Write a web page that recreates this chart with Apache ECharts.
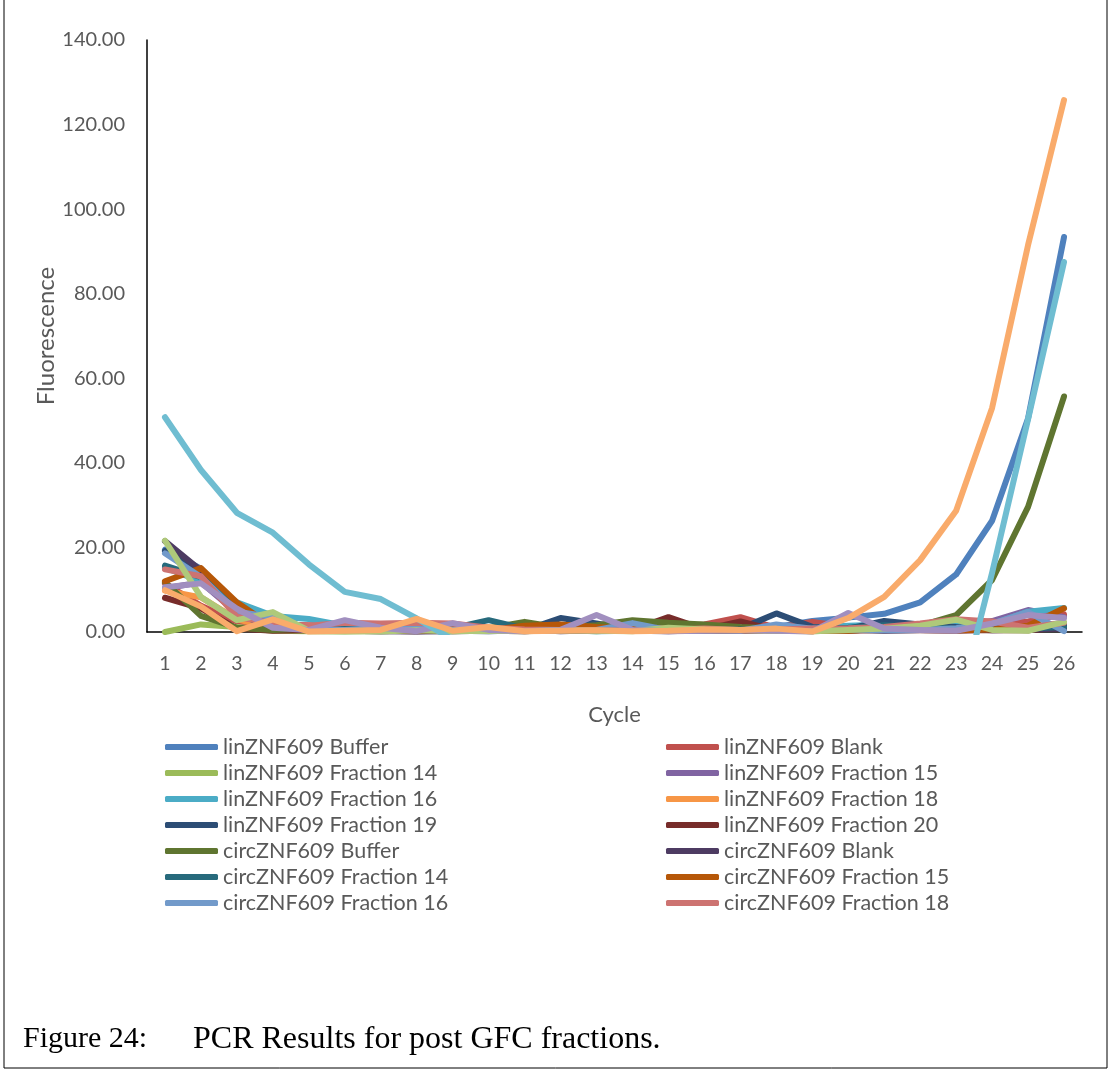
<!DOCTYPE html>
<html>
<head>
<meta charset="utf-8">
<script src="https://cdn.jsdelivr.net/npm/echarts@6/dist/echarts.min.js"></script>
<style>
  html, body { margin: 0; padding: 0; background: #fff; }
  #chart { width: 1110px; height: 1071px; }
</style>
</head>
<body>
<div id="chart"></div>
<script>
// cycles on the x axis
const cycles = ['1','2','3','4','5','6','7','8','9','10','11','12','13','14','15','16','17','18','19','20','21','22','23','24','25','26']

// series names (first 14 are shown in the legend)
const seriesNames = [
  'linZNF609 Buffer', 'linZNF609 Blank',
  'linZNF609 Fraction 14', 'linZNF609 Fraction 15',
  'linZNF609 Fraction 16', 'linZNF609 Fraction 18',
  'linZNF609 Fraction 19', 'linZNF609 Fraction 20',
  'circZNF609 Buffer', 'circZNF609 Blank',
  'circZNF609 Fraction 14', 'circZNF609 Fraction 15',
  'circZNF609 Fraction 16', 'circZNF609 Fraction 18',
  'circZNF609 Fraction 19', 'circZNF609 Fraction 20',
  'Series17', 'Series18'
]

// fluorescence values
const linBuffer = [19.5, 15.0, 6.0, 2.2, 1.0, 0.8, 0.5, 0.6, 0.9, 0.5, 0.7, 0.9, 0.6, 0.8, 0.4, 0.6, 0.9, 1.2, 2.6, 3.4, 4.3, 7.0, 13.6, 26.3, 50.5, 93.4]
const linBlank = [11.5, 6.2, 2.5, 1.8, 1.6, 1.8, 1.2, 1.5, 1.8, 1.0, 0.8, 0.6, 0.9, 0.5, 1.2, 1.8, 3.5, 1.0, 2.4, 1.2, 0.8, 1.5, 2.2, 1.8, 2.5, 4.2]
const linF14 = [0.0, 1.8, 1.2, 0.3, 0.2, 0.1, 0.3, 0.5, 0.2, 0.4, 0.3, 0.5, 0.2, 0.6, 0.8, 0.4, 0.3, 0.5, 0.2, 0.4, 0.6, 0.9, 1.2, 0.7, 0.4, 1.8]
const linF15 = [10.3, 11.8, 4.5, 1.5, 0.8, 1.2, 0.8, 0.5, 0.6, 0.4, 0.3, 0.5, 0.8, 0.6, 0.3, 0.5, 0.4, 0.8, 0.6, 0.9, 1.2, 1.0, 1.5, 2.6, 5.2, 3.5]
const linF16 = [15.2, 12.0, 7.0, 3.8, 3.1, 1.5, 0.8, 0.4, 0.6, 0.3, 0.5, 0.4, 0.2, 0.3, 0.5, 0.4, 0.6, 0.8, 1.0, 1.5, 1.8, 1.2, 2.4, 1.8, 4.8, 5.7]
const linF18 = [9.8, 8.2, 3.0, 1.0, 0.5, 0.4, 0.6, 0.8, 0.5, 0.3, 0.4, 0.6, 0.5, 0.4, 0.3, 0.5, 0.6, 0.4, 0.3, 0.5, 0.8, 1.0, 0.6, 0.9, 1.2, 2.0]
const linF19 = [19.2, 14.0, 4.2, 1.2, 0.6, 0.3, 0.2, 0.4, 0.3, 0.2, 0.4, 3.3, 2.0, 0.5, 0.6, 0.4, 0.8, 4.4, 1.2, 0.8, 2.6, 1.8, 1.2, 1.0, 0.6, 1.5]
const linF20 = [8.1, 5.6, 0.8, 0.3, 0.4, 0.6, 0.3, 0.2, 0.4, 0.3, 0.2, 0.6, 0.8, 0.5, 3.5, 0.6, 2.5, 0.4, 0.6, 0.3, 0.5, 0.4, 0.3, 0.5, 0.4, 1.0]
const circBuffer = [11.8, 3.8, 1.0, 0.5, 0.8, 0.4, 0.6, 1.0, 1.5, 0.9, 2.4, 1.0, 1.6, 2.8, 2.2, 1.8, 1.2, 0.8, 0.5, 0.4, 0.6, 1.5, 4.0, 12.3, 29.6, 55.7]
const circBlank = [21.5, 14.5, 5.0, 1.2, 0.5, 0.3, 0.2, 0.1, 0.2, 0.3, 0.6, 0.2, 0.4, 0.3, 0.2, 0.4, 0.3, 0.5, 0.4, 0.6, 0.3, 0.5, 0.8, 0.4, 0.6, 0.8]
const circF14 = [15.7, 13.0, 6.0, 2.0, 1.0, 0.8, 0.5, 0.6, 0.9, 2.8, 0.8, 0.5, 0.6, 1.0, 0.4, 0.5, 0.6, 0.4, 0.8, 1.0, 1.6, 1.2, 0.8, 1.5, 0.8, 1.2]
const circF15 = [12.0, 15.1, 7.0, 1.3, 0.6, 0.4, 0.5, 0.3, 0.6, 0.4, 1.5, 1.8, 1.2, 0.8, 0.5, 0.4, 0.3, 0.5, 0.4, 0.3, 0.8, 0.5, 0.4, 0.6, 1.5, 5.6]
const circF16 = [18.6, 13.0, 4.8, 3.5, 0.8, 0.5, 1.0, 1.2, 0.5, 0.6, 0.3, 0.4, 0.5, 2.1, 0.4, 0.5, 0.3, 1.8, 0.8, 0.6, 0.4, 0.5, 0.9, 2.0, 4.7, 0.2]
const circF18 = [14.8, 13.2, 3.6, 2.0, 1.5, 2.2, 2.0, 2.2, 2.0, 1.0, 0.6, 0.5, 0.4, 0.3, 0.6, 0.8, 0.5, 0.6, 0.8, 0.9, 1.2, 2.0, 3.0, 2.5, 1.0, 2.2]
const circF19 = [21.6, 8.3, 2.8, 4.7, 0.3, 0.2, 0.1, 0.4, 0.2, 0.3, 0.2, 0.4, 0.3, 0.2, 1.0, 0.6, 0.5, 0.3, 0.2, 0.5, 0.8, 1.5, 2.9, 0.5, 0.3, 2.4]
const circF20 = [10.6, 11.5, 5.5, 1.0, 0.5, 2.8, 1.0, 0.2, 2.1, 0.5, 0.2, 0.5, 4.0, 0.5, 0.2, 0.3, 0.4, 0.3, 0.1, 4.5, 0.8, 0.5, 0.3, 2.0, 4.0, 3.3]
const series17 = [50.8, 38.3, 28.2, 23.5, 16.0, 9.5, 7.8, 3.2, -1.8, -2.5, -3.0, -3.5, -4.5, -5.5, -6.5, -7.5, -8.5, -9.5, -11.0, -12.5, -14.0, -16.0, -19.5, 14.0, 50.3, 87.5]
const series18 = [9.9, 6.0, 0.2, 3.0, 0.1, 0.3, 0.5, 3.1, 0.3, 1.2, 0.2, 0.3, 0.4, 0.2, 0.3, 0.6, 0.5, 0.8, 0.1, 3.3, 8.3, 17.0, 28.7, 53.0, 91.5, 125.8]

const seriesValues = [
  linBuffer, linBlank, linF14, linF15, linF16, linF18, linF19, linF20,
  circBuffer, circBlank, circF14, circF15, circF16, circF18, circF19, circF20,
  series17, series18
]

// Office colour sequence
const colors = [
  '#4F81BD', '#C0504D', '#9BBB59', '#8064A2', '#4BACC6', '#F79646',
  '#2C4D75', '#772C2A', '#5F7530', '#4D3B62', '#276A7C', '#B65708',
  '#729ACA', '#CD7371', '#AFC97A', '#A18FBF', '#6FBDD1', '#F9AB6B'
]

const font = 'Lato'
const textColor = '#595959'

const chart = echarts.init(document.getElementById('chart'))

// legend: two columns, row-major like Excel
const legendLeft = seriesNames.slice(0, 14).filter((n, i) => i % 2 === 0)
const legendRight = seriesNames.slice(0, 14).filter((n, i) => i % 2 === 1)
const legendBase = {
  orient: 'vertical',
  top: 736,
  padding: 0,
  itemGap: 4,
  itemWidth: 53,
  itemHeight: 6,
  icon: 'roundRect',
  selectedMode: false,
  textStyle: { fontFamily: font, fontSize: 21.5, color: textColor, lineHeight: 22 }
}

const option = {
  animation: false,
  backgroundColor: '#fff',
  color: colors,
  grid: { left: 147, top: 40, width: 935, height: 592, containLabel: false },
  legend: [
    Object.assign({}, legendBase, { left: 165, data: legendLeft }),
    Object.assign({}, legendBase, { left: 666, data: legendRight })
  ],
  xAxis: {
    type: 'category',
    data: cycles,
    boundaryGap: true,
    name: 'Cycle',
    nameLocation: 'middle',
    nameGap: 72,
    nameTextStyle: { fontFamily: font, fontSize: 22, color: textColor },
    axisLine: { lineStyle: { color: '#000', width: 1.5 } },
    axisTick: { show: false },
    axisLabel: { fontFamily: font, fontSize: 19.5, color: textColor, margin: 22 }
  },
  yAxis: {
    type: 'value',
    min: 0,
    max: 140,
    interval: 20,
    name: 'Fluorescence',
    nameLocation: 'middle',
    nameGap: 89,
    nameMoveOverlap: false,
    nameTextStyle: { fontFamily: font, fontSize: 24, color: textColor },
    axisLine: { show: true, lineStyle: { color: '#000', width: 1.5 } },
    axisTick: { show: false },
    splitLine: { show: false },
    axisLabel: {
      fontFamily: font, fontSize: 20, color: textColor, margin: 22,
      formatter: v => v.toFixed(2)
    }
  },
  series: seriesNames.map((name, i) => ({
    name,
    type: 'line',
    data: seriesValues[i],
    symbol: 'none',
    clip: true,
    lineStyle: { width: 6, cap: 'round', join: 'round' }
  })),
  graphic: [
    // figure frame
    {
      type: 'polyline',
      shape: { points: [[4, 0], [4, 1068], [1107, 1068], [1107, 0]] },
      style: { stroke: '#000', lineWidth: 1, fill: null }
    },
    {
      type: 'text',
      left: 23,
      top: 1024,
      style: { text: 'Figure 24:', font: '30px "Liberation Serif"', fill: '#000' }
    },
    {
      type: 'text',
      left: 193,
      top: 1024,
      style: { text: 'PCR Results for post GFC fractions.', font: '32px "Liberation Serif"', fill: '#000' }
    }
  ]
}

chart.setOption(option)
</script>
</body>
</html>
